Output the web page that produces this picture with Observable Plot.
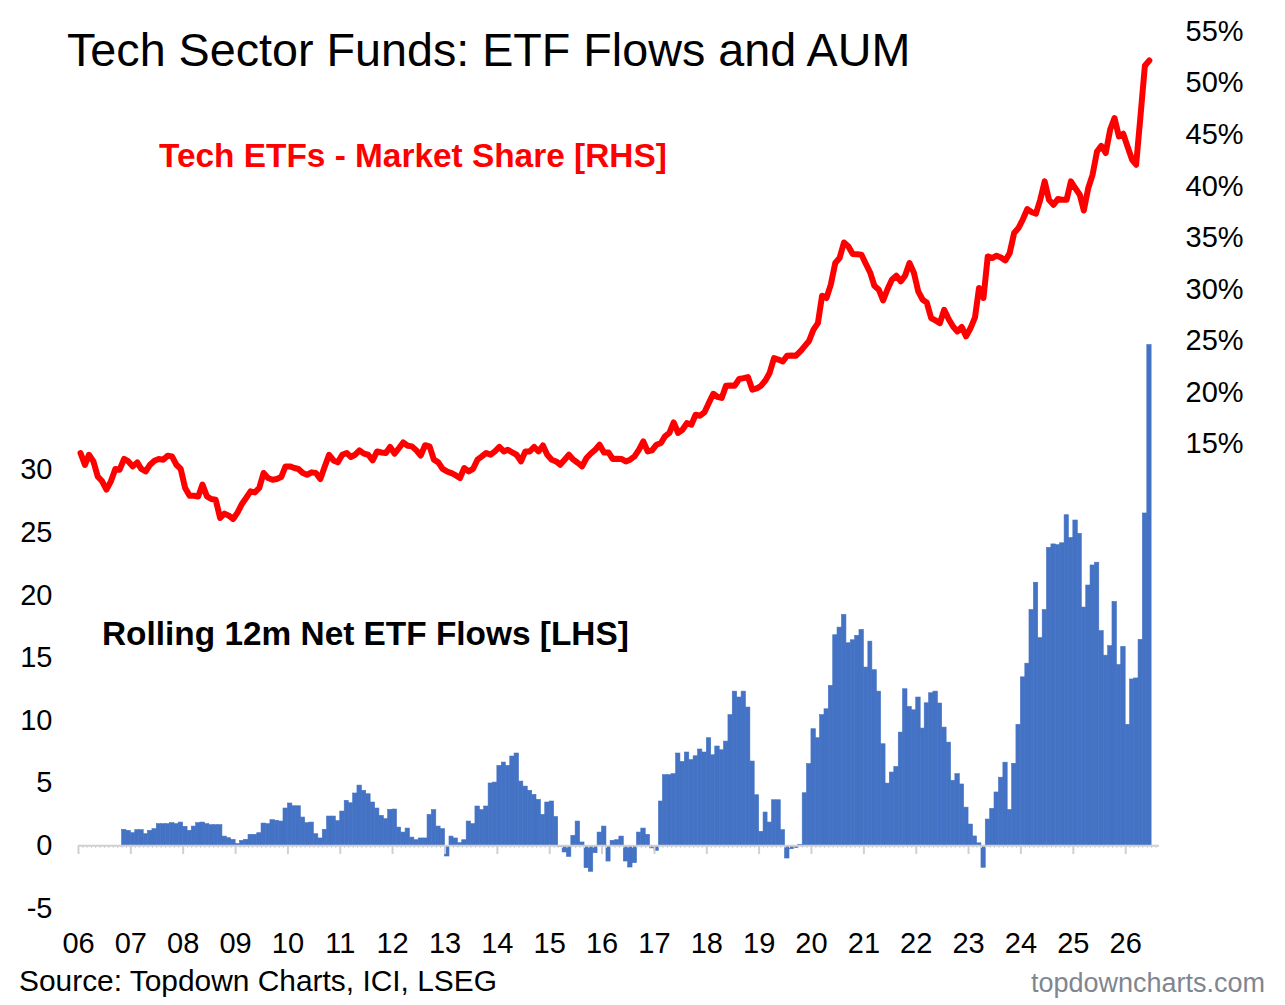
<!DOCTYPE html>
<html>
<head>
<meta charset="utf-8">
<script src="https://cdn.jsdelivr.net/npm/d3@7"></script>
<script src="https://cdn.jsdelivr.net/npm/@observablehq/plot@0.6"></script>
<style>
  html, body { margin: 0; padding: 0; background: #fff; overflow: hidden; }
  #wrap { position: relative; width: 1285px; height: 1005px; font-family: "Liberation Sans", Arial, sans-serif; }
  .t { position: absolute; white-space: nowrap; line-height: 1; }
</style>
</head>
<body>
<div id="wrap">
  <div class="t" style="left:67px; top:27px; font-size:46.7px; color:#000;">Tech Sector Funds: ETF Flows and AUM</div>
  <div class="t" style="left:159px; top:139px; font-size:33.4px; font-weight:bold; color:#ff0000;">Tech ETFs - Market Share [RHS]</div>
  <div class="t" style="left:102px; top:617px; font-size:33.4px; font-weight:bold; color:#000;">Rolling 12m Net ETF Flows [LHS]</div>
  <div class="t" style="left:19px; top:966px; font-size:29.9px; color:#000;">Source: Topdown Charts, ICI, LSEG</div>
  <div class="t" style="left:1031px; top:970px; font-size:27px; color:#7f8690;">topdowncharts.com</div>
</div>
<script>
// Tech ETF market share (% of sector fund AUM), monthly from Jan 2006
const shareStart = [2006, 0];
const shareValues = [
  14.15, 13.0, 13.98, 13.33, 11.88, 11.4, 10.6, 11.4, 12.6, 12.53, 13.57, 13.33,
  12.85, 13.24, 12.6, 12.36, 13.01, 13.4, 13.57, 13.5, 13.89, 13.82, 13.01, 12.6,
  10.76, 10.0, 10.0, 9.94, 11.08, 9.94, 9.69, 9.62, 7.85, 8.27, 8.07, 7.75,
  8.39, 9.23, 9.79, 10.43, 10.33, 10.76, 12.21, 11.72, 11.56, 11.63, 11.82, 12.85,
  12.85, 12.69, 12.6, 12.21, 12.04, 12.27, 12.21, 11.63, 12.85, 13.98, 13.43, 13.24,
  13.98, 14.15, 13.76, 13.98, 14.4, 14.08, 13.98, 13.43, 14.3, 14.2, 14.15, 14.73,
  14.08, 14.63, 15.17, 14.85, 14.79, 14.4, 13.9, 14.9, 14.79, 13.5, 13.24, 12.6,
  12.36, 12.2, 12.0, 11.72, 12.69, 12.36, 12.6, 13.5, 13.82, 14.15, 13.98, 14.3,
  14.73, 14.3, 14.47, 14.2, 13.98, 13.33, 14.3, 14.3, 14.73, 14.3, 14.88, 13.98,
  13.5, 13.33, 13.01, 13.5, 13.98, 13.5, 13.2, 12.85, 13.66, 14.1, 14.47, 14.95,
  14.2, 14.2, 13.57, 13.6, 13.57, 13.33, 13.5, 13.82, 14.47, 15.27, 14.3, 14.4,
  14.95, 15.12, 15.76, 16.09, 17.11, 16.09, 16.4, 17.05, 16.89, 17.86, 17.76, 18.08,
  19.0, 19.89, 19.6, 19.48, 20.67, 20.7, 20.67, 21.32, 21.4, 21.51, 20.28, 20.4,
  20.67, 21.2, 21.9, 23.35, 23.2, 23.02, 23.58, 23.6, 23.58, 23.99, 24.5, 25.0,
  26.1, 26.74, 29.39, 29.17, 30.46, 32.56, 33.04, 34.55, 34.17, 33.43, 33.4, 33.36,
  32.46, 31.59, 30.36, 29.97, 28.93, 30.04, 30.94, 31.33, 30.78, 31.33, 32.56, 31.65,
  29.81, 29.0, 28.74, 27.23, 27.0, 26.74, 28.03, 27.13, 26.41, 25.93, 26.36, 25.45,
  26.26, 27.3, 30.14, 29.17, 33.2, 33.04, 33.27, 33.1, 32.81, 33.53, 35.47, 35.95,
  36.8, 37.79, 37.5, 37.34, 38.69, 40.47, 38.69, 38.2, 38.76, 38.7, 38.69, 40.47,
  39.8, 39.18, 37.65, 39.83, 41.11, 43.37, 43.92, 43.22, 45.5, 46.61, 44.83, 45.09,
  43.8, 42.57, 42.09, 46.9, 51.68, 52.19
];

// Rolling 12m net ETF flows (LHS), monthly from Nov 2006
const flowStart = [2006, 10];
const flowValues = [
  1.28, 1.2, 1.01, 1.25, 1.25, 0.93, 1.2, 1.33, 1.73, 1.73, 1.73, 1.81,
  1.73, 1.86, 1.52, 1.2, 1.54, 1.81, 1.86, 1.73, 1.65, 1.65, 1.65, 0.74,
  0.61, 0.48, 0.15, 0.4, 0.48, 0.88, 0.88, 1.01, 1.78, 1.73, 2.05, 2.0,
  1.94, 2.98, 3.38, 3.16, 3.16, 2.26, 1.81, 1.86, 0.93, 0.59, 1.28, 2.34,
  2.34, 1.97, 2.74, 3.59, 3.4, 4.18, 4.81, 4.39, 4.12, 3.46, 2.98, 2.39,
  2.13, 2.87, 2.9, 1.46, 1.06, 1.38, 0.66, 0.45, 0.59, 0.59, 2.47, 2.85,
  1.54, 1.33, -0.85, 0.74, 0.59, 0.21, 0.45, 1.94, 1.73, 3.14, 2.85, 3.14,
  4.98, 5.05, 6.38, 6.65, 6.38, 7.13, 7.37, 5.13, 4.73, 4.39, 4.07, 3.67,
  2.47, 3.46, 3.54, 2.3, -0.1, -0.53, -0.88, 0.8, 1.94, 0.27, -1.78, -2.07,
  -0.59, 1.06, 1.54, -1.25, 0.4, 0.45, 0.74, -1.25, -1.73, -1.38, 1.06, 1.38,
  0.88, -0.2, -0.4, 3.54, 5.64, 5.64, 5.72, 7.37, 6.7, 7.45, 6.84, 7.15,
  7.69, 7.45, 8.59, 7.23, 7.93, 7.63, 8.32, 10.43, 12.31, 11.84, 12.31, 11.04,
  6.73, 4.04, 1.12, 2.66, 1.86, 3.64, 3.64, 1.25, -1.01, -0.27, -0.19, 0.08,
  4.2, 6.52, 9.31, 8.59, 10.43, 10.9, 12.77, 16.81, 17.42, 18.43, 16.17, 16.41,
  16.76, 17.23, 14.23, 16.3, 14.02, 12.31, 8.11, 4.97, 5.85, 6.3, 9.04, 12.5,
  11.09, 10.82, 11.84, 9.36, 11.38, 12.18, 12.31, 11.36, 9.44, 8.24, 5.19, 5.72,
  4.9, 3.05, 1.7, 0.75, 0.2, -1.75, 2.1, 2.95, 4.26, 5.44, 6.64, 2.86,
  6.55, 9.66, 13.45, 14.54, 18.82, 21.0, 16.58, 18.82, 23.78, 24.06, 24.0, 24.15,
  26.39, 24.57, 25.97, 24.9, 19.02, 20.78, 22.38, 22.6, 17.14, 15.18, 15.94, 19.47,
  14.43, 15.88, 9.66, 13.28, 13.36, 16.44, 26.53, 39.97
];

// Axis ticks
const leftTicks = [-5, 0, 5, 10, 15, 20, 25, 30];
const rightTicks = [15, 20, 25, 30, 35, 40, 45, 50, 55];
const yearTicks = d3.range(2006, 2027);

// Scale bridging: left domain [-5, 65] shares the frame with right domain [-30, 55]
const leftDomain = [-5, 65];
const rightDomain = [-30, 55];
const toLeft = r => leftDomain[0] + (r - rightDomain[0]) * (leftDomain[1] - leftDomain[0]) / (rightDomain[1] - rightDomain[0]);
const fromLeft = l => rightDomain[0] + (l - leftDomain[0]) * (rightDomain[1] - rightDomain[0]) / (leftDomain[1] - leftDomain[0]);

const shareRows = shareValues.map((v, i) => ({date: new Date(Date.UTC(shareStart[0], shareStart[1] + i, 15)), value: v}));
const flowRows = flowValues.map((v, i) => ({
  start: new Date(Date.UTC(flowStart[0], flowStart[1] + i, 1)),
  end: new Date(Date.UTC(flowStart[0], flowStart[1] + i + 1, 1)),
  value: v
}));
const yearDates = yearTicks.map(y => new Date(Date.UTC(y, 0, 1)));
const monthDates = d3.utcMonths(new Date(Date.UTC(2006, 0, 1)), new Date(Date.UTC(2026, 8, 1)));

const chart = Plot.plot({
  width: 1285,
  height: 1005,
  marginLeft: 78,
  marginRight: 126,
  marginTop: 31,
  marginBottom: 97,
  style: {fontFamily: "'Liberation Sans', Arial, sans-serif", color: "#000", background: "transparent", overflow: "visible"},
  x: {type: "utc", domain: [new Date(Date.UTC(2006, 0, 1)), new Date(Date.UTC(2026, 7, 25))], axis: null},
  y: {domain: leftDomain, axis: null},
  marks: [
    Plot.rect(flowRows, {x1: "start", x2: "end", y1: 0, y2: "value", fill: "#4472c4", stroke: "#4472c4", strokeWidth: 0.6}),
    Plot.ruleY([0], {stroke: "#d0d0d0", strokeWidth: 2}),
    Plot.ruleX(monthDates, {x: d => d, y1: 0, y2: leftDomain[0], insetBottom: 60, stroke: "#d0d0d0", strokeWidth: 1}),
    Plot.ruleX(yearDates, {x: d => d, y1: 0, y2: leftDomain[0], insetBottom: 54, stroke: "#d0d0d0", strokeWidth: 2}),
    Plot.line(shareRows, {x: "date", y: d => toLeft(d.value), stroke: "#ff0000", strokeWidth: 6, strokeLinejoin: "round", strokeLinecap: "round"}),
    Plot.axisY(leftTicks, {anchor: "left", label: null, tickSize: 0, tickPadding: 26, fontSize: 29, tickFormat: d => String(d)}),
    Plot.axisY(rightTicks.map(toLeft), {anchor: "right", label: null, tickSize: 0, tickPadding: 26, fontSize: 29, tickFormat: d => String(Math.round(fromLeft(d))) + "%"}),
    Plot.axisX(yearDates, {anchor: "bottom", label: null, tickSize: 0, tickPadding: 24, fontSize: 29, tickFormat: d3.utcFormat("%y")})
  ]
});
chart.style.position = "absolute";
chart.style.left = "0px";
chart.style.top = "0px";
document.getElementById("wrap").prepend(chart);
</script>
</body>
</html>
